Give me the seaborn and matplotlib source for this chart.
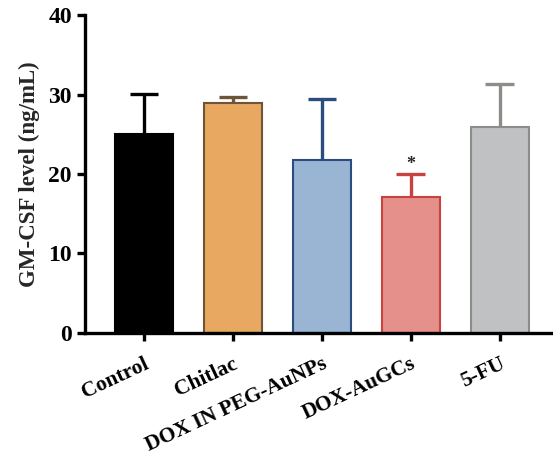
import matplotlib.pyplot as plt
import pandas as pd
import seaborn as sns

groups = ["Control", "Chitlac", "DOX IN PEG-AuNPs", "DOX-AuGCs", "5-FU"]
means = [25.0, 28.9, 21.8, 17.1, 25.9]
sd = [5.1, 0.8, 7.6, 2.9, 5.4]
fills = ["#000000", "#E8A862", "#9AB4D4", "#E5908A", "#BFC1C2"]
edges = ["#000000", "#6E5538", "#2B4C7E", "#C8423F", "#8C8C88"]

df = pd.DataFrame({"group": groups, "level": means})

sns.set_theme(style="ticks")
plt.rcParams["font.family"] = ["Liberation Serif", "DejaVu Serif"]
plt.rcParams["font.weight"] = "bold"

fig = plt.figure(figsize=(5.53, 4.61), dpi=100)
ax = fig.add_axes([0.154, 0.278, 0.846, 0.689])
sns.barplot(data=df, x="group", y="level", hue="group", palette=fills, width=0.65,
            legend=False, ax=ax, saturation=1, zorder=2)
for patch, ec in zip(ax.patches, edges):
    patch.set_edgecolor(ec)
    patch.set_linewidth(1.5)
# upper-only error bars
for i, (m, s, ec) in enumerate(zip(means, sd, edges)):
    ax.vlines(i, m, m + s, color=ec, linewidth=2.4, zorder=1)
    ax.hlines(m + s, i - 0.16, i + 0.16, color=ec, linewidth=2.4, zorder=1)
ax.text(3, means[3] + sd[3] + 0.1, "*", ha="center", va="bottom", fontsize=13, fontweight="bold")

ax.set_ylim(0, 40)
ax.set_xlim(-0.66, 4.6)
ax.set_yticks([0, 10, 20, 30, 40])
ax.set_xlabel("")
ax.set_ylabel("GM-CSF level (ng/mL)", fontsize=16.5, fontweight="bold", labelpad=6)
sns.despine(ax=ax)
for sp in ["left", "bottom"]:
    ax.spines[sp].set_linewidth(2.4)
    ax.spines[sp].set_color("black")
ax.tick_params(axis="both", direction="out", length=6, width=2.4, colors="black", labelsize=17)
ax.tick_params(axis="x", pad=9)
plt.setp(ax.get_xticklabels(), rotation=25, ha="right", rotation_mode="anchor", fontweight="bold", fontsize=15.5)
plt.setp(ax.get_yticklabels(), fontweight="bold")
fig.savefig("out.png", dpi=100)
